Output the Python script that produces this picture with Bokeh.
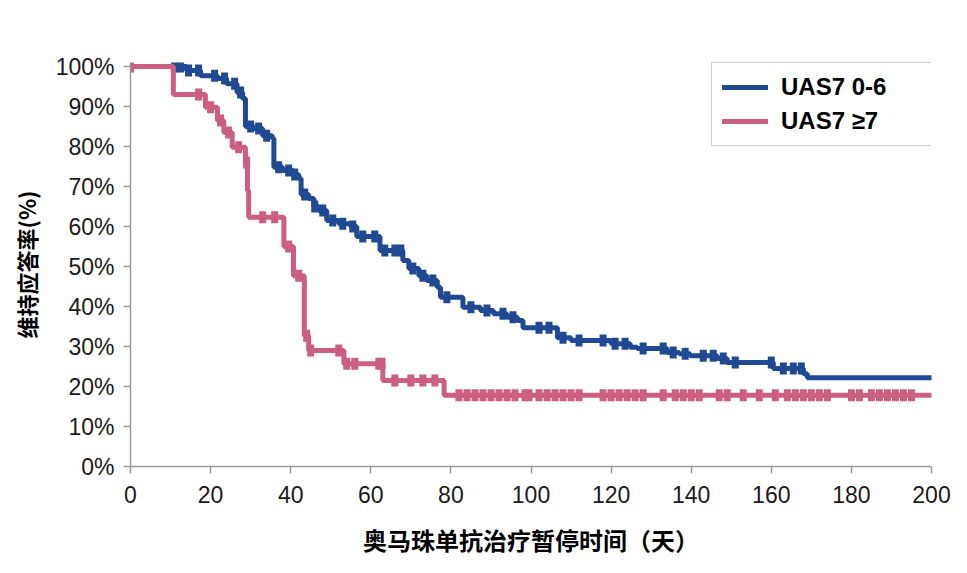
import numpy as np
from bokeh.plotting import figure
from bokeh.models import FixedTicker, PrintfTickFormatter, Legend, LegendItem, Range1d
from bokeh.embed import file_html
from bokeh.resources import INLINE

# ---- data ----
x_ticks = [0, 20, 40, 60, 80, 100, 120, 140, 160, 180, 200]
y_ticks = [0, 10, 20, 30, 40, 50, 60, 70, 80, 90, 100]
follow_up_end = 200

series_names = ["UAS7 0-6", "UAS7 \u22657"]

blue_times = [14, 17.5, 21.7, 24, 26.6, 28, 28.7, 30.8, 33, 35.4, 35.8, 38, 40.7, 42,
              42.6, 44.5, 45.8, 47, 49, 52, 55, 56.5, 62.3, 68, 69.5, 72, 74, 76.6,
              77.4, 83, 87.4, 90.6, 94, 96.6, 98, 106.6, 110, 120, 124.8, 126.5,
              134, 137, 139.7, 146.5, 149, 160.5, 168, 169]
blue_surv = [99, 97.7, 97, 95.7, 93.5, 92, 85, 84.5, 82.7, 82, 74.8, 74, 73, 72,
             68, 67, 65, 64, 61.5, 60.7, 60, 57.5, 54, 51.5, 49.5, 47.7, 46.5, 44.8,
             42.3, 39.8, 39, 38.2, 37.3, 36.5, 34.7, 32.2, 31.5, 30.7, 29.8, 29.5,
             28.5, 28.2, 27.7, 27, 26, 24.5, 23.2, 22.2]
blue_censor = [11, 12.5, 14.5, 17, 21, 23.5, 26, 27.5, 30, 32, 34, 37, 39.5, 41, 43.5,
               46, 48, 50.5, 53, 55.5, 58, 61, 63.5, 66, 67.5, 70.5, 73, 75.5, 79, 85,
               89, 93, 95.5, 102, 104.5, 108, 112, 118, 121, 123.5, 128, 133, 135.5,
               138.5, 143, 145.5, 148, 151, 160, 163, 165.5, 167.5]

red_times = [10.7, 18.7, 21.7, 23.3, 25.4, 28.7, 29.2, 29.5, 38.3, 40.7, 43.4, 44.5,
             53.3, 63, 78.3]
red_surv = [93, 89.8, 86.5, 83.5, 79.8, 76, 69, 62.3, 55, 47.7, 32.7, 29,
            25.7, 21.5, 17.8]
red_censor = [0, 17, 20, 22.5, 24.5, 27, 29, 33, 36, 39.5, 42, 44, 45, 52, 54, 56,
              62, 62.8, 66, 70, 73, 76, 82, 84, 86, 88, 90, 92, 94, 96, 98.5, 99.5,
              102, 104, 106, 108, 110, 112, 118, 120, 122, 124, 126, 128, 133, 136,
              138, 140, 142, 147, 149, 153, 157, 161, 164, 166, 168, 170, 172, 174,
              180, 182, 185, 187, 189, 191, 193, 195]

BLUE = "#1f4a93"
PINK = "#cc5f7f"
AXIS = "#9a9a9a"

def step_xy(times, surv, end):
    xs = [0] + list(times) + [end]
    ys = [100] + list(surv) + [surv[-1]]
    return xs, ys

def surv_at(t, times, surv):
    idx = np.searchsorted(np.asarray(times), np.asarray(t), side="right")
    vals = np.concatenate([[100], surv])
    return vals[idx]

p = figure(width=955, height=565, output_backend="svg", toolbar_location=None,
           x_range=Range1d(0, 200), y_range=Range1d(0, 101),
           min_border_left=130, min_border_right=24, min_border_top=62,
           min_border_bottom=99)
p.outline_line_color = None
p.xgrid.visible = False
p.ygrid.visible = False
p.background_fill_color = "white"

bx, by = step_xy(blue_times, blue_surv, follow_up_end)
rx, ry = step_xy(red_times, red_surv, follow_up_end)

r_blue = p.step(bx, by, mode="after", line_color=BLUE, line_width=5, line_cap="round")
p.rect(blue_censor, surv_at(blue_censor, blue_times, blue_surv), width=7, height=12,
       width_units="screen", height_units="screen", fill_color=BLUE, line_color=None)
r_red = p.step(rx, ry, mode="after", line_color=PINK, line_width=5, line_cap="round")
p.rect(red_censor, surv_at(red_censor, red_times, red_surv), width=7, height=12,
       width_units="screen", height_units="screen", fill_color=PINK, line_color=None)

# axes
for ax in (p.xaxis[0], p.yaxis[0]):
    ax.axis_line_color = AXIS
    ax.axis_line_width = 1.5
    ax.major_tick_line_color = AXIS
    ax.major_tick_line_width = 1.5
    ax.major_tick_in = 0
    ax.major_tick_out = 7
    ax.minor_tick_line_color = None
    ax.major_label_text_font = "Liberation Sans"
    ax.major_label_text_font_size = "23px"
    ax.major_label_text_color = "#1a1a1a"
    ax.axis_label_text_font = "Noto Sans CJK SC"
    ax.axis_label_text_font_style = "bold"
    ax.axis_label_text_color = "#000000"

p.xaxis.axis_label_text_font_size = "24px"
p.yaxis.axis_label_text_font_size = "22px"
p.xaxis.ticker = FixedTicker(ticks=x_ticks)
p.yaxis.ticker = FixedTicker(ticks=y_ticks)
p.yaxis.formatter = PrintfTickFormatter(format="%d%%")
p.xaxis.major_label_standoff = 12
p.yaxis.major_label_standoff = 9
p.xaxis.axis_label = "奥马珠单抗治疗暂停时间（天）"
p.yaxis.axis_label = "维持应答率(%)"
p.xaxis.axis_label_standoff = 16
p.yaxis.axis_label_standoff = 11

legend = Legend(items=[LegendItem(label=series_names[0], renderers=[r_blue]),
                       LegendItem(label=series_names[1], renderers=[r_red])],
                location=(581, 320), margin=0, padding=10, spacing=6,
                label_height=26, glyph_height=26, glyph_width=46, label_standoff=13,
                label_width=141)
legend.label_text_font = "Liberation Sans"
legend.label_text_font_style = "bold"
legend.label_text_font_size = "24px"
legend.label_text_color = "#000000"
legend.border_line_color = "#a0a0a0"
legend.border_line_width = 1.5
legend.background_fill_alpha = 1.0
p.add_layout(legend)

open("out.html", "w").write(file_html(p, INLINE))
